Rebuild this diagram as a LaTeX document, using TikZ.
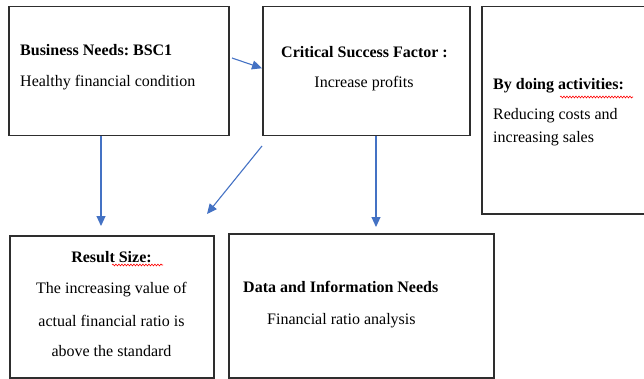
\documentclass[tikz,border=0pt]{standalone}
\usepackage{fontspec}
\setmainfont{Liberation Serif}
\frenchspacing
\usetikzlibrary{arrows.meta,decorations.pathmorphing}
\definecolor{arrowblue}{HTML}{4472C4}
\definecolor{boxline}{HTML}{2E2E2E}
\begin{document}
\begin{tikzpicture}[x=1pt,y=-1pt,
  box/.style={draw=boxline,line width=1.5pt,inner sep=0pt,anchor=north west},
  lbl/.style={inner sep=0pt,font=\fontsize{16}{19}\selectfont},
  hdr/.style={inner sep=0pt,font=\fontsize{16}{19}\selectfont\bfseries},
  flow/.style={draw=arrowblue,line width=1.1pt,-{Triangle[length=10pt,width=9pt]}},
  spell/.style={draw=red,line width=0.6pt,decorate,decoration={snake,amplitude=0.9pt,segment length=3pt}}]
\useasboundingbox (0,0) rectangle (644,379);
\clip (0,0) rectangle (644,379);
% boxes
\node[box,minimum width=220pt,minimum height=129pt] (A) at (8,6) {};
\node[box,minimum width=207pt,minimum height=129pt] (B) at (262,6) {};
\node[box,minimum width=180pt,minimum height=207pt] (C) at (481,6) {};
\node[box,minimum width=204pt,minimum height=142pt] (D) at (9,235) {};
\node[box,minimum width=265pt,minimum height=144pt] (E) at (228,233) {};
% texts
\node[hdr,anchor=base west] (a1) at (20,56) {Business Needs: BSC1};
\node[lbl,anchor=base west] (a2) at (20,87) {Healthy financial condition};
\node[hdr,anchor=base] (b1) at (364.5,58) {Critical Success Factor :};
\node[lbl,anchor=base] (b2) at (364,88) {Increase profits};
\node[hdr,anchor=base west] (c1) at (493,90) {By doing activities:};
\node[lbl,anchor=base west] (c2) at (493,120) {Reducing costs and};
\node[lbl,anchor=base west] (c3) at (493,143) {increasing sales};
\node[hdr,anchor=base] (d1) at (111.5,262) {Result Size:};
\node[lbl,anchor=base] (d2) at (111.5,293) {The increasing value of};
\node[lbl,anchor=base] (d3) at (111.5,326) {actual financial ratio is};
\node[lbl,anchor=base] (d4) at (111.5,356) {above the standard};
\node[hdr,anchor=base west] (e1) at (243,292) {Data and Information Needs};
\node[lbl,anchor=base west] (e2) at (267,324) {Financial ratio analysis};
% spell-check underlines
\draw[spell] (112,265) -- (163,265);
\draw[spell] (560,97) -- (633,97);
% connectors
\coordinate (ab) at (232,58);
\coordinate (ad) at (101,226);
\coordinate (bs) at (262,146);
\coordinate (bd) at (207,214);
\coordinate (be) at (376,227);
\draw[flow] (ab) -- ([yshift=3pt]B.west);
\draw[flow] (A.south -| ad) -- (ad);
\draw[flow] (bs) -- (bd);
\draw[flow] (B.south -| be) -- (be);
\end{tikzpicture}
\end{document}
